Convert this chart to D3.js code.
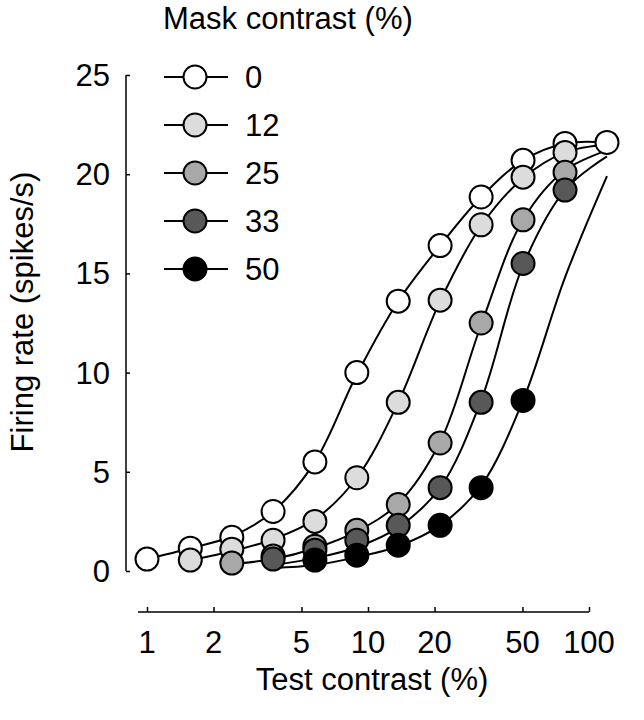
<!DOCTYPE html>
<html>
<head>
<meta charset="utf-8">
<script src="https://cdn.jsdelivr.net/npm/d3@7"></script>
<style>
  body { margin: 0; background: #fff; }
  svg text { font-family: "Liberation Sans", Arial, sans-serif; fill: #000; }
</style>
</head>
<body>
<div id="graph"><svg id="chartSVG" width="644" height="720"></svg></div>
<script>
const testContrast = [1, 1.57, 2.42, 3.72, 5.75, 8.9, 13.7, 21.2, 32.5, 50.3, 77.9, 120.6];

// mask contrast levels (legend)
const maskLevels = ["0", "12", "25", "33", "50"];
const maskFills = ["#ffffff", "#dcdcdc", "#a8a8a8", "#585858", "#000000"];

// first test-contrast index of each series
const startIdx = [0, 1, 2, 3, 4];

// firing rate (spikes/s) per mask level
const rate0  = [0.6, 1.15, 1.7, 3.0, 5.5, 10.0, 13.6, 16.4, 18.85, 20.7, 21.55, 21.6];
const rate12 = [0.55, 1.1, 1.55, 2.5, 4.7, 8.5, 13.65, 17.45, 19.85, 21.1];
const rate25 = [0.4, 0.75, 1.25, 2.05, 3.35, 6.45, 12.5, 17.7, 20.1];
const rate33 = [0.6, 1.05, 1.55, 2.3, 4.2, 8.5, 15.5, 19.2];
const rate50 = [0.55, 0.8, 1.3, 2.3, 4.2, 8.6];

// fitted curves (start index, values)
const fitStart = [0, 1, 2, 3, 3];
const fit0  = [0.6, 1.15, 1.75, 3.0, 5.5, 9.9, 13.6, 16.4, 18.85, 20.7, 21.55, 21.6];
const fit12 = [0.55, 1.0, 1.6, 2.6, 4.7, 8.5, 13.6, 17.4, 19.8, 21.1, 21.5];
const fit25 = [0.35, 0.6, 1.15, 2.0, 3.4, 6.5, 12.4, 17.7, 20.2, 21.2];
const fit33 = [0.3, 0.65, 1.2, 2.2, 4.2, 8.6, 15.4, 19.2, 20.9];
const fit50 = [0.15, 0.3, 0.7, 1.25, 2.3, 4.3, 8.6, 14.8, 19.9];

const yTicks = [0, 5, 10, 15, 20, 25];
const xTicks = [1, 2, 5, 10, 20, 50, 100];

const rates = [rate0, rate12, rate25, rate33, rate50];
const fits = [fit0, fit12, fit25, fit33, fit50];

let svg = d3.select("#chartSVG");
svg.append("rect").attr("width", 644).attr("height", 720).attr("fill", "#fff");

// 1. scales
let xScale = d3.scaleLog().domain([1, 100]).range([147, 589]);
let yScale = d3.scaleLinear().domain([0, 25]).range([571, 75]);

// 2. axes (offset, ticks pointing inward)
let yAxis = d3.axisRight(yScale).tickValues(yTicks).tickSize(4).tickFormat("");
let gy = svg.append("g").attr("transform", "translate(126,0)").call(yAxis);
gy.select(".domain").remove();
gy.append("line").attr("y1", yScale(25)).attr("y2", yScale(0)).attr("stroke", "#000").attr("stroke-width", 1.5);
gy.selectAll(".tick line").attr("stroke", "#000").attr("stroke-width", 1.5);

let xAxis = d3.axisTop(xScale).tickValues(xTicks).tickSize(5).tickFormat("");
let gx = svg.append("g").attr("transform", "translate(0,612)").call(xAxis);
gx.select(".domain").remove();
gx.append("line").attr("x1", 138).attr("x2", xScale(100)).attr("stroke", "#000").attr("stroke-width", 1.5);
gx.selectAll(".tick line").attr("stroke", "#000").attr("stroke-width", 1.5);

// tick labels
svg.selectAll(".ylab").data(yTicks).enter().append("text")
  .attr("x", 110).attr("y", d => yScale(d) + 11)
  .attr("text-anchor", "end").style("font-size", "31px").text(d => d);

svg.selectAll(".xlab").data(xTicks).enter().append("text")
  .attr("x", d => xScale(d)).attr("y", 653)
  .attr("text-anchor", "middle").style("font-size", "31px").text(d => d);

// 3. fitted curves
let line = d3.line()
  .x(d => xScale(d[0]))
  .y(d => yScale(d[1]))
  .curve(d3.curveCatmullRom.alpha(0.5));

fits.forEach((f, s) => {
  let pts = f.map((v, i) => [testContrast[fitStart[s] + i], v]);
  svg.append("path").attr("d", line(pts))
    .attr("fill", "none").attr("stroke", "#000").attr("stroke-width", 2);
});

// 4. data points (higher mask contrast on top)
rates.forEach((r, s) => {
  svg.append("g").selectAll("circle")
    .data(r.map((v, i) => [testContrast[startIdx[s] + i], v]))
    .enter().append("circle")
    .attr("cx", d => xScale(d[0]))
    .attr("cy", d => yScale(d[1]))
    .attr("r", 11.5)
    .attr("fill", maskFills[s])
    .attr("stroke", "#000").attr("stroke-width", 2);
});

// 5. legend
let legend = svg.append("g");
maskLevels.forEach((m, i) => {
  let y = 77 + i * 48;
  legend.append("line").attr("x1", 164).attr("x2", 228).attr("y1", y).attr("y2", y)
    .attr("stroke", "#000").attr("stroke-width", 2);
  legend.append("circle").attr("cx", 195).attr("cy", y).attr("r", 11.5)
    .attr("fill", maskFills[i]).attr("stroke", "#000").attr("stroke-width", 2);
  legend.append("text").attr("x", 245).attr("y", y + 11).style("font-size", "31px").text(m);
});

// 6. titles
svg.append("text").attr("x", 163).attr("y", 29).style("font-size", "31px").text("Mask contrast (%)");

svg.append("text").attr("x", 372).attr("y", 690).attr("text-anchor", "middle")
  .style("font-size", "31px").text("Test contrast (%)");

svg.append("text").attr("transform", "translate(33,312) rotate(-90)")
  .attr("text-anchor", "middle").style("font-size", "31px").text("Firing rate (spikes/s)");
</script>
</body>
</html>
